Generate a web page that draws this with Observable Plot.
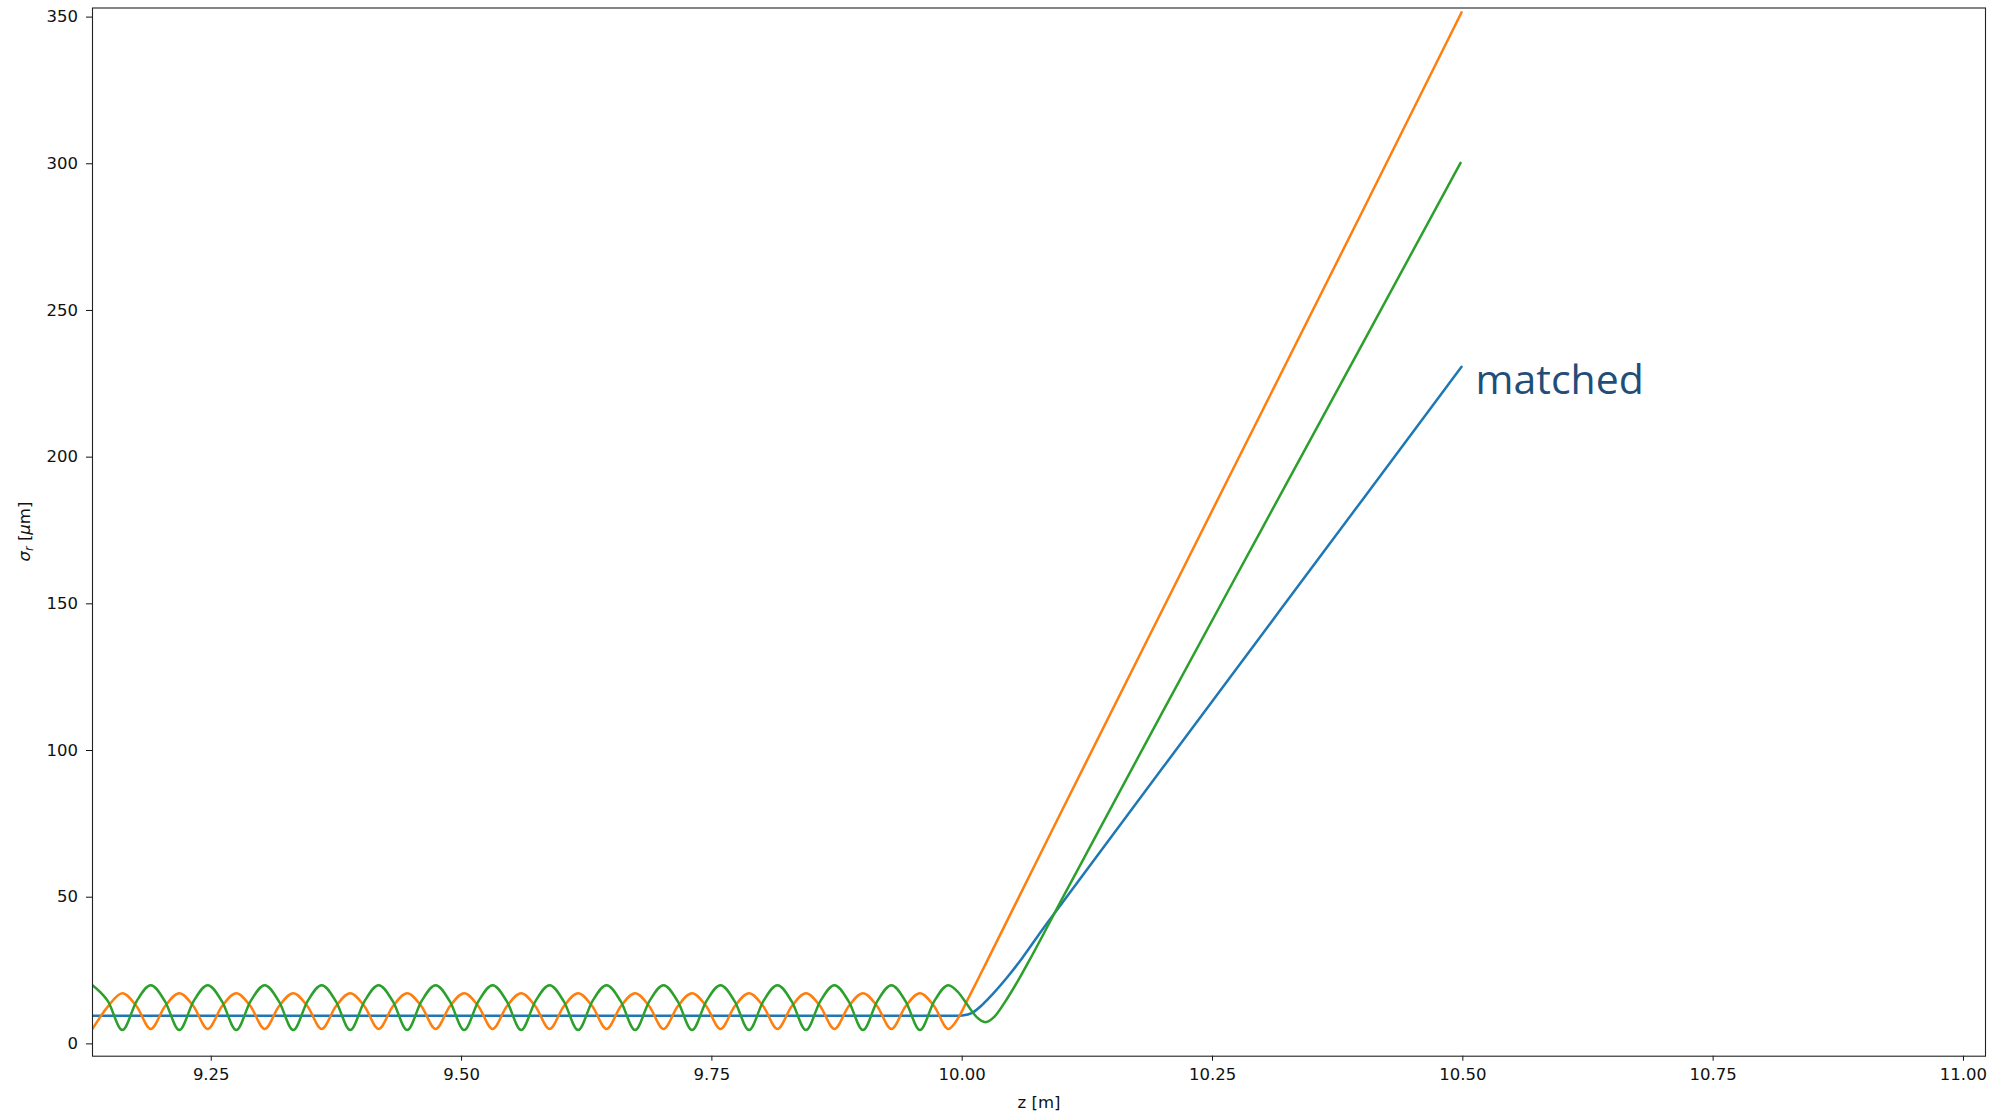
<!DOCTYPE html>
<html><head><meta charset="utf-8">
<script src="https://cdn.jsdelivr.net/npm/d3@7"></script>
<script src="https://cdn.jsdelivr.net/npm/@observablehq/plot@0.6"></script>
<style>
html,body{margin:0;padding:0;background:#fff;}
#chart{width:2003px;height:1114px;overflow:hidden;}
</style></head><body><div id="chart"></div>
<script>
// ---- data ----
const seriesNames = ["matched", "mismatched A", "mismatched B"];
const seriesColors = ["#1f77b4", "#ff7f0e", "#2ca02c"];
const annotation = "matched";
const xTicks = [9.25, 9.5, 9.75, 10.0, 10.25, 10.5, 10.75, 11.0];
const yTicks = [0, 50, 100, 150, 200, 250, 300, 350];

// in-plasma oscillation region (shared z for the two mismatched beams)
const zOsc = [9.1314, 9.1469, 9.1612, 9.1754, 9.1896, 9.2038, 9.2181, 9.2323, 9.2465, 9.2607,
  9.2750, 9.2892, 9.3034, 9.3176, 9.3319, 9.3461, 9.3603, 9.3745, 9.3888, 9.4030,
  9.4172, 9.4314, 9.4457, 9.4599, 9.4741, 9.4883, 9.5026, 9.5168, 9.5310, 9.5452,
  9.5595, 9.5737, 9.5879, 9.6021, 9.6164, 9.6306, 9.6448, 9.6590, 9.6733, 9.6875,
  9.7017, 9.7159, 9.7302, 9.7444, 9.7586, 9.7728, 9.7871, 9.8013, 9.8155, 9.8297,
  9.8440, 9.8582, 9.8724, 9.8866, 9.9009, 9.9151, 9.9293, 9.9435, 9.9578, 9.9720, 9.9862];
const orangeOsc = [5.1, 12.8, 17.3, 12.8, 5.1, 12.8, 17.3, 12.8, 5.1, 12.8,
  17.3, 12.8, 5.1, 12.8, 17.3, 12.8, 5.1, 12.8, 17.3, 12.8,
  5.1, 12.8, 17.3, 12.8, 5.1, 12.8, 17.3, 12.8, 5.1, 12.8,
  17.3, 12.8, 5.1, 12.8, 17.3, 12.8, 5.1, 12.8, 17.3, 12.8,
  5.1, 12.8, 17.3, 12.8, 5.1, 12.8, 17.3, 12.8, 5.1, 12.8,
  17.3, 12.8, 5.1, 12.8, 17.3, 12.8, 5.1, 12.8, 17.3, 12.8, 5.1];
const greenOsc = [20.0, 14.5, 4.7, 14.5, 20.0, 14.5, 4.7, 14.5, 20.0, 14.5,
  4.7, 14.5, 20.0, 14.5, 4.7, 14.5, 20.0, 14.5, 4.7, 14.5,
  20.0, 14.5, 4.7, 14.5, 20.0, 14.5, 4.7, 14.5, 20.0, 14.5,
  4.7, 14.5, 20.0, 14.5, 4.7, 14.5, 20.0, 14.5, 4.7, 14.5,
  20.0, 14.5, 4.7, 14.5, 20.0, 14.5, 4.7, 14.5, 20.0, 14.5,
  4.7, 14.5, 20.0, 14.5, 4.7, 14.5, 20.0, 14.5, 4.7, 14.5, 20.0];

// matched beam (flat, then diverging after the plasma exit)
const zBlue = [9.1314, 9.995, 10.0, 10.01, 10.02, 10.03, 10.045, 10.06, 10.08, 10.1, 10.2, 10.3, 10.4, 10.4987];
const blueSigma = [9.6, 9.6, 9.7, 10.6, 13.3, 16.8, 22.7, 29.3, 38.9, 48.1, 94.0, 139.8, 185.6, 230.8];

// mismatched beams after the plasma exit
const zOrangeExit = [9.992, 9.998, 10.005, 10.015, 10.03, 10.05, 10.1, 10.2, 10.3, 10.4, 10.4987];
const orangeExit = [6.8, 10.0, 14.8, 21.5, 31.8, 45.5, 79.8, 148.0, 216.0, 284.0, 351.6];
const zGreenExit = [9.996, 10.005, 10.014, 10.0233, 10.032, 10.042, 10.055, 10.07, 10.1, 10.2, 10.3, 10.4, 10.4977];
const greenExit = [17.6, 13.4, 9.3, 7.4, 9.2, 13.9, 21.1, 30.3, 49.6, 113.1, 176.0, 238.8, 300.3];

// ---- build table ----
const rows = [];
zBlue.forEach((z, i) => rows.push({series: seriesNames[0], z, sigma: blueSigma[i]}));
zOsc.forEach((z, i) => rows.push({series: seriesNames[1], z, sigma: orangeOsc[i]}));
zOrangeExit.forEach((z, i) => rows.push({series: seriesNames[1], z, sigma: orangeExit[i]}));
zOsc.forEach((z, i) => rows.push({series: seriesNames[2], z, sigma: greenOsc[i]}));
zGreenExit.forEach((z, i) => rows.push({series: seriesNames[2], z, sigma: greenExit[i]}));
const blueRows = rows.filter(d => d.series === seriesNames[0]);
const blueEnd = blueRows[blueRows.length - 1];

const chart = Plot.plot({
  width: 2003, height: 1114,
  marginLeft: 92, marginRight: 18, marginTop: 7.5, marginBottom: 58.3,
  style: {fontFamily: "DejaVu Sans", fontSize: "16.5px", color: "#111", background: "#fff"},
  x: {domain: [9.1314, 11.022]},
  y: {domain: [-4.2, 353.1]},
  color: {domain: seriesNames, range: seriesColors},
  marks: [
    Plot.line(rows, {x: "z", y: "sigma", z: "series", stroke: "series", curve: "monotone-x", strokeWidth: 2.5, clip: true}),
    Plot.axisX({ticks: xTicks, tickFormat: d => d.toFixed(2), tickSize: 5, tickPadding: 7.5, label: null}),
    Plot.axisY({ticks: yTicks, tickSize: 6, tickPadding: 8.5, label: null}),
    Plot.frame({stroke: "#222", strokeWidth: 1.1}),
    Plot.text(["z [m]"], {frameAnchor: "bottom", text: d => d, dy: 51.3, lineAnchor: "bottom", fontSize: 16.5}),
    Plot.text([blueEnd], {x: "z", y: "sigma", text: () => annotation, textAnchor: "start", lineAnchor: "bottom",
      dx: 14, dy: 27, fontSize: 41, fontFamily: "Open Sans", fill: "#1f4e79"})
  ]
});
document.getElementById("chart").appendChild(chart);

// y-axis label with math-style sigma_r and mu
const svg = d3.select(chart.tagName.toLowerCase() === "svg" ? chart : chart.querySelector("svg"));
const t = svg.append("text")
  .attr("transform", "translate(30,531.6) rotate(-90)")
  .attr("text-anchor", "middle")
  .attr("font-family", "DejaVu Sans")
  .attr("font-size", 16.5)
  .attr("fill", "#111");
t.append("tspan").attr("font-style", "italic").text("σ");
t.append("tspan").attr("font-style", "italic").attr("font-size", 11.5).attr("dy", 3).text("r");
t.append("tspan").attr("dy", -3).text(" [");
t.append("tspan").attr("font-style", "italic").text("μ");
t.append("tspan").text("m]");
</script></body></html>
